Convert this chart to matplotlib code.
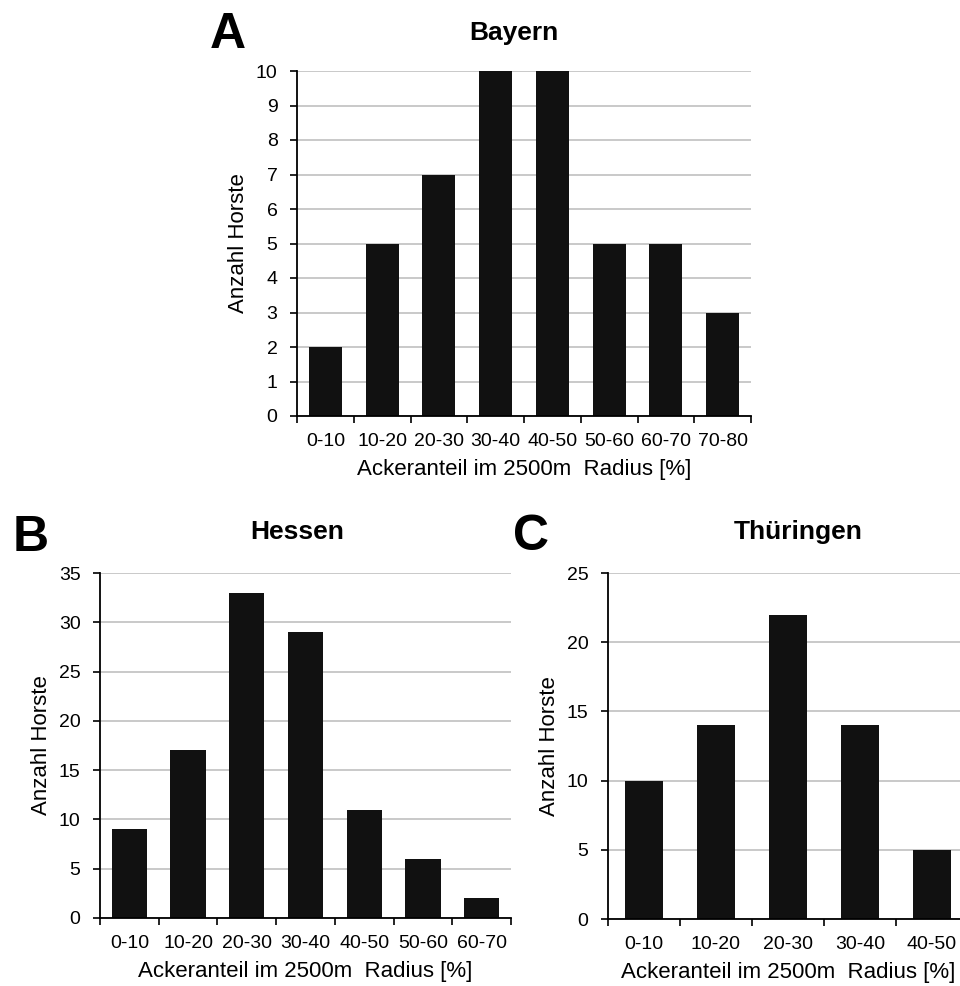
import numpy as np
import matplotlib
matplotlib.use("Agg")
import matplotlib.pyplot as plt
from matplotlib.ticker import FixedLocator, NullFormatter

plt.rcParams['font.family'] = ['Liberation Sans', 'DejaVu Sans']

# -------------------- Daten --------------------
x_label = 'Ackeranteil im 2500m  Radius [%]'
y_label = 'Anzahl Horste'

bayern_cats = ['0-10', '10-20', '20-30', '30-40', '40-50', '50-60', '60-70', '70-80']
bayern_vals = [2, 5, 7, 10, 10, 5, 5, 3]

hessen_cats = ['0-10', '10-20', '20-30', '30-40', '40-50', '50-60', '60-70']
hessen_vals = [9, 17, 33, 29, 11, 6, 2]

thueringen_cats = ['0-10', '10-20', '20-30', '30-40', '40-50']
thueringen_vals = [10, 14, 22, 14, 5]

W, H = 960, 986
BAR_COLOR = '#111111'
GRID_COLOR = '#c0c0c0'


def px_axes(fig, left, right, top, bottom):
    # Pixelkoordinaten (oben links) -> Figure-Anteile
    return fig.add_axes([left / W, 1 - bottom / H, (right - left) / W, (bottom - top) / H])


def draw_panel(ax, cats, vals, ymax, ystep, bar_width):
    n = len(cats)
    x = np.arange(n)
    ax.bar(x, vals, width=bar_width, color=BAR_COLOR, zorder=3)
    ax.set_xlim(-0.5, n - 0.5)
    ax.set_ylim(0, ymax)
    ax.set_yticks(np.arange(0, ymax + 1, ystep))
    ax.yaxis.grid(True, color=GRID_COLOR, linewidth=1.2, zorder=0)
    ax.set_axisbelow(True)

    # Excel-Stil: Striche an den Klassengrenzen, Beschriftung in der Mitte
    ax.xaxis.set_major_locator(FixedLocator(np.arange(-0.5, n)))
    ax.xaxis.set_major_formatter(NullFormatter())
    ax.xaxis.set_minor_locator(FixedLocator(x))
    ax.set_xticklabels(cats, minor=True)
    ax.tick_params(axis='x', which='major', direction='out', length=5, width=1.2)
    ax.tick_params(axis='x', which='minor', length=0, pad=12, labelsize=14)
    ax.tick_params(axis='y', direction='out', length=5, width=1.2, pad=9, labelsize=14)

    for side in ['top', 'right']:
        ax.spines[side].set_visible(False)
    for side in ['left', 'bottom']:
        ax.spines[side].set_linewidth(1.3)
        ax.spines[side].set_zorder(4)

    ax.set_xlabel(x_label, fontsize=16, labelpad=7)
    ax.set_ylabel(y_label, fontsize=16, labelpad=5)


fig = plt.figure(figsize=(W / 100, H / 100), dpi=100)

ax_a = px_axes(fig, 297, 751, 71, 416)
draw_panel(ax_a, bayern_cats, bayern_vals, 10, 1, 0.58)

ax_b = px_axes(fig, 100, 511, 573, 918)
draw_panel(ax_b, hessen_cats, hessen_vals, 35, 5, 0.6)

ax_c = px_axes(fig, 608, 968, 573, 919)
draw_panel(ax_c, thueringen_cats, thueringen_vals, 25, 5, 0.53)

# Titel und Buchstaben
fig.text(514 / W, 1 - 40 / H, 'Bayern', fontsize=19, fontweight='bold', ha='center', va='baseline')
fig.text(297 / W, 1 - 539 / H, 'Hessen', fontsize=19, fontweight='bold', ha='center', va='baseline')
fig.text(798 / W, 1 - 539 / H, 'Thüringen', fontsize=19, fontweight='bold', ha='center', va='baseline')

fig.text(210 / W, 1 - 48 / H, 'A', fontsize=36, fontweight='bold', ha='left', va='baseline')
fig.text(13 / W, 1 - 551 / H, 'B', fontsize=36, fontweight='bold', ha='left', va='baseline')
fig.text(513 / W, 1 - 550 / H, 'C', fontsize=36, fontweight='bold', ha='left', va='baseline')

fig.savefig('out.png', dpi=100)
